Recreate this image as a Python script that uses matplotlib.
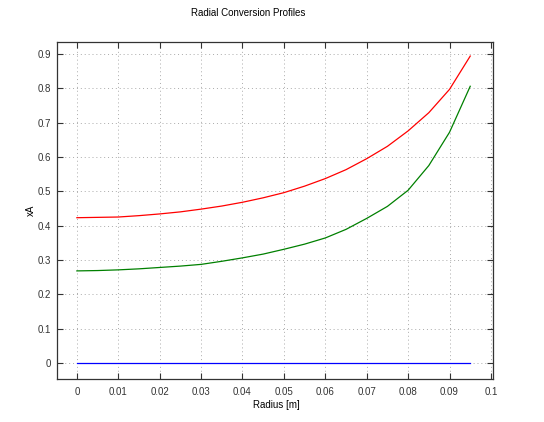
import numpy as np
import matplotlib
matplotlib.use('Agg')
import matplotlib.pyplot as plt

plt.rcParams['font.family'] = ['Liberation Sans', 'DejaVu Sans']

# radial positions [m]
radius = [0.0, 0.005, 0.01, 0.015, 0.02, 0.025, 0.03, 0.035, 0.04, 0.045,
          0.05, 0.055, 0.06, 0.065, 0.07, 0.075, 0.08, 0.085, 0.09, 0.095]

# conversion profiles
xa_red = [0.423, 0.424, 0.425, 0.429, 0.434, 0.440, 0.448, 0.457, 0.468, 0.481,
          0.496, 0.515, 0.537, 0.563, 0.595, 0.631, 0.676, 0.729, 0.797, 0.894]
xa_green = [0.268, 0.269, 0.271, 0.274, 0.278, 0.282, 0.287, 0.296, 0.306, 0.317,
            0.331, 0.346, 0.364, 0.389, 0.421, 0.456, 0.503, 0.575, 0.672, 0.806]
xa_blue = [0.0] * len(radius)

fig = plt.figure(figsize=(5.44, 4.22), dpi=100)
ax = fig.add_axes([57/544, 1 - 379/422, (493 - 57)/544, (379 - 42)/422])

ax.plot(radius, xa_red, color='#ff0000', lw=0.9)
ax.plot(radius, xa_green, color='#008000', lw=0.9)
ax.plot(radius, xa_blue, color='#0000ff', lw=0.9)

ax.set_xlim(-0.0048, 0.1005)
ax.set_ylim(-0.047, 0.935)
ax.set_xticks(np.arange(0, 0.101, 0.01))
ax.set_xticklabels(['0', '0.01', '0.02', '0.03', '0.04', '0.05', '0.06', '0.07', '0.08', '0.09', '0.1'])
ax.set_yticks(np.arange(0, 0.91, 0.1))
ax.set_yticklabels(['0', '0.1', '0.2', '0.3', '0.4', '0.5', '0.6', '0.7', '0.8', '0.9'])

ax.grid(True, linestyle=(0, (1, 3)), color='#aaaaaa', lw=0.7)
ax.tick_params(direction='in', length=4, width=0.8, top=True, right=True,
               labelsize=7, colors='#333333')
ax.tick_params(axis='x', pad=6)
ax.tick_params(axis='y', pad=4)
for s in ax.spines.values():
    s.set_color('#333333')
    s.set_linewidth(0.9)

fig.text(248/544, 1 - 13/422, 'Radial Conversion Profiles', ha='center', va='center', fontsize=7)
fig.text(276/544, 1 - 405/422, 'Radius [m]', ha='center', va='center', fontsize=7)
fig.text(31/544, 1 - 210/422, 'xA', ha='center', va='center', rotation=90, fontsize=7)

fig.savefig('out.png', dpi=100)
